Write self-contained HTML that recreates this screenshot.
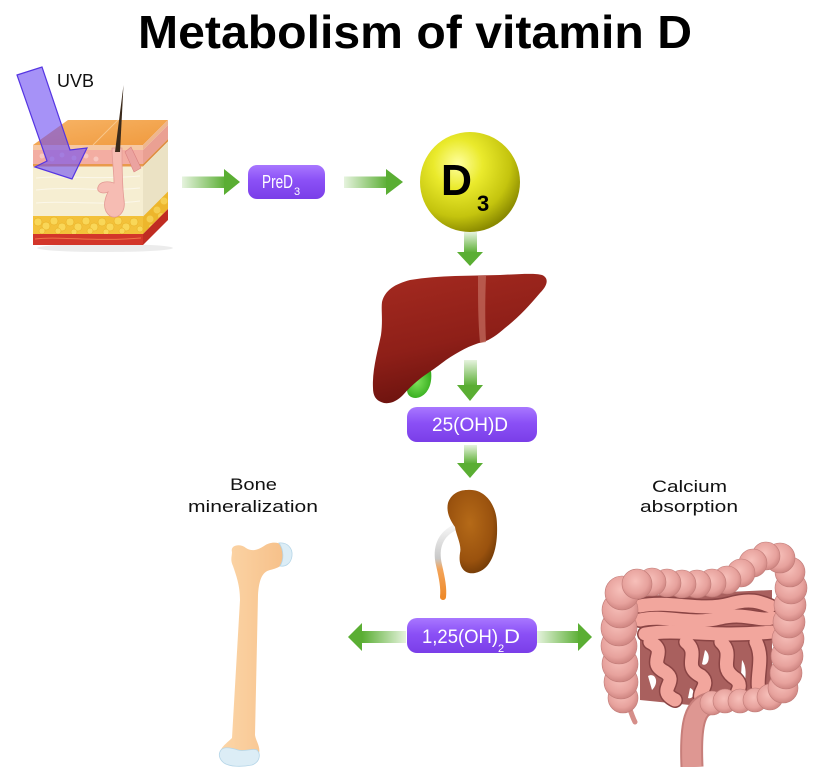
<!DOCTYPE html>
<html>
<head>
<meta charset="utf-8">
<style>
html,body{margin:0;padding:0;background:#fff;}
svg{display:block;}
text{font-family:"Liberation Sans",sans-serif;}
</style>
</head>
<body>
<svg width="815" height="767" viewBox="0 0 815 767" xmlns="http://www.w3.org/2000/svg">
<defs>
  <linearGradient id="gR" x1="0" y1="0" x2="1" y2="0">
    <stop offset="0" stop-color="#e6f3de"/><stop offset="1" stop-color="#5aae33"/>
  </linearGradient>
  <linearGradient id="gL" x1="1" y1="0" x2="0" y2="0">
    <stop offset="0" stop-color="#e6f3de"/><stop offset="1" stop-color="#5aae33"/>
  </linearGradient>
  <linearGradient id="gD" x1="0" y1="0" x2="0" y2="1">
    <stop offset="0" stop-color="#e6f3de"/><stop offset="1" stop-color="#5aae33"/>
  </linearGradient>
  <linearGradient id="purp" x1="0" y1="0" x2="0" y2="1">
    <stop offset="0" stop-color="#a877ff"/><stop offset="0.45" stop-color="#8b50f6"/><stop offset="1" stop-color="#7a3ee8"/>
  </linearGradient>
  <radialGradient id="sph" cx="0.38" cy="0.32" r="0.7">
    <stop offset="0" stop-color="#ffff9e"/><stop offset="0.35" stop-color="#eaea2c"/><stop offset="0.75" stop-color="#c4c40e"/><stop offset="1" stop-color="#8a8a00"/>
  </radialGradient>
  <linearGradient id="liv" x1="0" y1="0" x2="0.3" y2="1">
    <stop offset="0" stop-color="#a52a20"/><stop offset="0.6" stop-color="#8e1f18"/><stop offset="1" stop-color="#6a120e"/>
  </linearGradient>
  <radialGradient id="kid" cx="0.45" cy="0.4" r="0.65">
    <stop offset="0" stop-color="#b56a18"/><stop offset="0.7" stop-color="#9a520e"/><stop offset="1" stop-color="#6e3806"/>
  </radialGradient>
  <linearGradient id="ure" x1="0" y1="0" x2="0" y2="1">
    <stop offset="0" stop-color="#f4f4f4"/><stop offset="0.45" stop-color="#c8c8c8"/><stop offset="0.6" stop-color="#f3a45a"/><stop offset="1" stop-color="#ee8a2a"/>
  </linearGradient>
  <linearGradient id="bone" x1="0" y1="0" x2="1" y2="0">
    <stop offset="0" stop-color="#fcd6a8"/><stop offset="1" stop-color="#f6bf88"/>
  </linearGradient>
  <radialGradient id="hau" cx="0.45" cy="0.4" r="0.6">
    <stop offset="0" stop-color="#f7c0ba"/><stop offset="0.7" stop-color="#e7a29d"/><stop offset="1" stop-color="#cf8682"/>
  </radialGradient>
  <linearGradient id="topf" x1="0" y1="0" x2="1" y2="1">
    <stop offset="0" stop-color="#f7b466"/><stop offset="1" stop-color="#f09a3e"/>
  </linearGradient>
  <radialGradient id="gall" cx="0.4" cy="0.4" r="0.7">
    <stop offset="0" stop-color="#7ee25a"/><stop offset="1" stop-color="#2fa818"/>
  </radialGradient>
</defs>

<!-- Title -->
<text x="138" y="48" font-size="46" font-weight="bold" fill="#000" textLength="554" lengthAdjust="spacingAndGlyphs">Metabolism of vitamin D</text>

<!-- Skin cube -->
<ellipse cx="105" cy="248" rx="68" ry="4" fill="#ececec"/>
<polygon points="33,145 68,120 168,120 143,145" fill="url(#topf)"/>
<line x1="118" y1="120" x2="93" y2="145" stroke="#f8c68a" stroke-width="1"/>
<rect x="33" y="145" width="110" height="5" fill="#f6c8a2"/>
<rect x="33" y="150" width="110" height="14" fill="#f3ada2"/>
<g fill="#f8c8c0">
  <circle cx="42" cy="156" r="2.5"/><circle cx="52" cy="159" r="2.5"/><circle cx="62" cy="155" r="2.5"/><circle cx="74" cy="158" r="2.5"/><circle cx="86" cy="156" r="2.5"/><circle cx="96" cy="159" r="2.5"/><circle cx="132" cy="157" r="2.5"/>
</g>
<rect x="33" y="164" width="110" height="2.5" fill="#e99a4c"/>
<rect x="33" y="166.5" width="110" height="50" fill="#f6eed2"/>
<g stroke="#fbf7ea" stroke-width="1" fill="none">
  <path d="M36,178 C60,175 90,180 140,176"/><path d="M36,190 C70,186 100,192 140,188"/><path d="M36,203 C60,200 100,206 140,201"/>
</g>
<rect x="33" y="216" width="110" height="18" fill="#f3c13a"/>
<g fill="#f9d758" stroke="#e6ac20" stroke-width="0.5">
  <circle cx="38" cy="222" r="4"/><circle cx="46" cy="226" r="4"/><circle cx="54" cy="221" r="4"/><circle cx="62" cy="227" r="4"/><circle cx="70" cy="222" r="4"/><circle cx="78" cy="227" r="4"/><circle cx="86" cy="221" r="4"/><circle cx="94" cy="227" r="4"/><circle cx="102" cy="222" r="4"/><circle cx="110" cy="227" r="4"/><circle cx="118" cy="221" r="4"/><circle cx="126" cy="227" r="4"/><circle cx="134" cy="222" r="4"/><circle cx="140" cy="229" r="3"/><circle cx="42" cy="231" r="3"/><circle cx="58" cy="231" r="3"/><circle cx="74" cy="232" r="3"/><circle cx="90" cy="231" r="3"/><circle cx="106" cy="232" r="3"/><circle cx="122" cy="231" r="3"/>
</g>
<rect x="33" y="234" width="110" height="11" fill="#d3362a"/>
<path d="M35,239 C60,236 90,242 141,238" stroke="#ee7448" stroke-width="1" fill="none"/>
<polygon points="143,145 168,120 168,125 143,150" fill="#eeb690"/>
<polygon points="143,150 168,125 168,139 143,164" fill="#eaa093"/>
<polygon points="143,164 168,139 168,141.5 143,166.5" fill="#df8c40"/>
<polygon points="143,166.5 168,141.5 168,191.5 143,216.5" fill="#ebe2c4"/>
<polygon points="143,216.5 168,191.5 168,209 143,234" fill="#edb62c"/>
<g fill="#f5ce50"><circle cx="150" cy="219" r="3.5"/><circle cx="157" cy="210" r="3.5"/><circle cx="164" cy="201" r="3.5"/><circle cx="152" cy="227" r="3"/><circle cx="161" cy="216" r="3"/></g>
<polygon points="143,234 168,209 168,220 143,245" fill="#c02c22"/>
<polygon points="125,152 131,147 141,168 134,172" fill="#eba3a0" stroke="#d98080" stroke-width="0.6"/>
<path d="M112,148 C112,160 114,172 114,183 C108,181 100,181 98,187 C96,193 104,194 108,192 C104,200 102,210 110,216 C118,220 126,212 124,200 C122,185 122,165 122,148 Z" fill="#f6bcb3" stroke="#e39a94" stroke-width="0.8"/>
<path d="M123.5,85 L120,152 L115,152 Z" fill="#3b2a1b"/>
<!-- UVB arrow -->
<polygon points="17,75 42,67 70,150 87,148 72,179 35,167 47,161" fill="#6f4ff2" fill-opacity="0.62" stroke="#5535e2" stroke-width="1.2"/>
<text x="57" y="87" font-size="18" fill="#111" textLength="37" lengthAdjust="spacingAndGlyphs">UVB</text>

<!-- Arrow 1 -->
<rect x="182" y="176.5" width="44" height="11.5" fill="url(#gR)"/>
<polygon points="224,169 240,182 224,195" fill="#5aae33"/>
<rect x="248" y="165" width="77" height="34" rx="9" fill="url(#purp)"/>
<text x="262" y="188" font-size="18" fill="#fff" textLength="31" lengthAdjust="spacingAndGlyphs">PreD</text>
<text x="294" y="195" font-size="11" fill="#fff">3</text>
<rect x="344" y="176.5" width="44" height="11.5" fill="url(#gR)"/>
<polygon points="386,169 403,182 386,195" fill="#5aae33"/>
<!-- D3 sphere -->
<circle cx="470" cy="182" r="50" fill="url(#sph)"/>
<text x="441" y="195" font-size="44" font-weight="bold" fill="#000" textLength="31" lengthAdjust="spacingAndGlyphs">D</text>
<text x="477" y="211" font-size="22" font-weight="bold" fill="#000">3</text>
<rect x="464" y="232" width="13" height="21" fill="url(#gD)"/>
<polygon points="457,252 483,252 470,266" fill="#5aae33"/>

<!-- Liver -->
<path d="M431,371 C433,386 426,397 416,398 C407,398 405,390 409,383 C414,377 424,374 431,371 Z" fill="url(#gall)"/>
<path d="M382,302 C385,290 395,284 410,280 C440,275 470,276 500,275 C520,274 535,273 542,275 C549,278 548,285 540,293 C530,305 518,318 505,328 C497,335 490,340 483,342 C470,345 458,352 446,360 C438,366 434,369 428,373 C419,379 411,386 403,395 C397,401 391,404 384,403 C376,401 373,396 373,388 C372,370 378,350 381,335 C383,320 381,310 382,302 Z" fill="url(#liv)"/>
<path d="M478,276 L486,276 C485,300 485,320 486,342 L480,343 C478,320 478,300 478,276 Z" fill="#c26a5c" opacity="0.75"/>
<rect x="464" y="360" width="13" height="26" fill="url(#gD)"/>
<polygon points="457,385 483,385 470,401" fill="#5aae33"/>
<rect x="407" y="407" width="130" height="35" rx="10" fill="url(#purp)"/>
<text x="432" y="431" font-size="19" fill="#fff" textLength="76" lengthAdjust="spacingAndGlyphs">25(OH)D</text>
<rect x="464" y="445" width="13" height="19" fill="url(#gD)"/>
<polygon points="457,463 483,463 470,478" fill="#5aae33"/>

<!-- Kidney -->
<path d="M456,527 C440,534 435,548 439,565 C442,578 444,588 443,597" stroke="url(#ure)" stroke-width="6" fill="none" stroke-linecap="round"/>
<path d="M467,490 C485,488 497,505 497,525 C498,548 492,570 475,573 C463,575 458,565 460,553 C462,545 456,535 455,527 C450,520 446,512 448,503 C451,494 459,490 467,490 Z" fill="url(#kid)"/>

<!-- 1,25(OH)2D -->
<rect x="362" y="631" width="44" height="12" fill="url(#gL)"/>
<polygon points="362,623 348,637 362,651" fill="#5aae33"/>
<rect x="537" y="631" width="43" height="12" fill="url(#gR)"/>
<polygon points="578,623 592,637 578,651" fill="#5aae33"/>
<rect x="407" y="618" width="130" height="35" rx="10" fill="url(#purp)"/>
<text x="422" y="643" font-size="19" fill="#fff" textLength="76" lengthAdjust="spacingAndGlyphs">1,25(OH)</text>
<text x="498" y="652" font-size="11" fill="#fff">2</text>
<text x="504" y="643" font-size="19" fill="#fff" textLength="16" lengthAdjust="spacingAndGlyphs">D</text>

<!-- Labels -->
<text x="230" y="490" font-size="17" fill="#111" textLength="47" lengthAdjust="spacingAndGlyphs">Bone</text>
<text x="188" y="512" font-size="17" fill="#111" textLength="130" lengthAdjust="spacingAndGlyphs">mineralization</text>
<text x="652" y="492" font-size="17" fill="#111" textLength="75" lengthAdjust="spacingAndGlyphs">Calcium</text>
<text x="640" y="512" font-size="17" fill="#111" textLength="98" lengthAdjust="spacingAndGlyphs">absorption</text>

<!-- Bone -->
<path d="M232,552 C230,545 240,543 246,548 C252,552 258,550 264,546 C272,540 285,542 287,552 C289,562 280,568 270,570 C262,572 259,580 258,595 L255,735 C256,742 262,748 258,756 C250,766 230,766 222,758 C216,750 226,744 232,738 L240,600 C240,585 236,575 233,566 C230,560 232,556 232,552 Z" fill="url(#bone)"/>
<path d="M279,543 C287,542 293,548 292,556 C291,564 285,567 280,566 C284,560 284,550 279,543 Z" fill="#dcedf6" stroke="#b6d6e8" stroke-width="0.8"/>
<path d="M221,750 C224,746 232,748 238,750 C244,752 252,748 257,750 C261,754 260,762 252,765 C242,767 230,767 224,763 C219,759 218,754 221,750 Z" fill="#dcedf6" stroke="#b6d6e8" stroke-width="0.8"/>

<!-- Intestines -->
<path d="M640,596 L772,590 L772,706 L700,706 L640,700 Z" fill="#a9605e"/>
<g fill="#ffffff">
  <path d="M648,676 C655,672 660,682 652,690 Z"/><path d="M705,650 C712,655 708,668 702,664 Z"/><path d="M742,660 C748,668 746,685 740,690 Z"/><path d="M690,688 C696,690 694,700 688,698 Z"/>
</g>
<g fill="none" stroke-linecap="round">
  <g stroke="#8a4444" stroke-width="16">
    <path d="M640,606 C670,600 700,612 730,604 C750,598 760,602 770,606"/>
    <path d="M640,620 C665,614 690,626 720,618 C745,612 760,622 772,618"/>
    <path d="M645,634 C680,628 710,638 772,632"/>
    <path d="M650,642 C670,652 645,662 665,672 C680,682 655,690 675,700"/>
    <path d="M686,642 C701,654 681,666 701,676 C713,686 691,695 706,702"/>
    <path d="M721,642 C736,656 716,666 736,679 C746,689 729,695 741,702"/>
    <path d="M756,642 C766,662 752,680 762,700"/>
  </g>
  <g stroke="#f2a69d" stroke-width="13">
    <path d="M640,606 C670,600 700,612 730,604 C750,598 760,602 770,606"/>
    <path d="M640,620 C665,614 690,626 720,618 C745,612 760,622 772,618"/>
    <path d="M645,634 C680,628 710,638 772,632"/>
    <path d="M650,642 C670,652 645,662 665,672 C680,682 655,690 675,700"/>
    <path d="M686,642 C701,654 681,666 701,676 C713,686 691,695 706,702"/>
    <path d="M721,642 C736,656 716,666 736,679 C746,689 729,695 741,702"/>
    <path d="M756,642 C766,662 752,680 762,700"/>
  </g>
</g>
<path d="M712,703 C695,705 690,722 692,767" stroke="#c77e7a" stroke-width="23" fill="none"/>
<path d="M712,703 C695,705 690,722 692,767" stroke="#de9792" stroke-width="19" fill="none"/>
<path d="M627,700 C630,710 632,716 635,722" stroke="#d58e89" stroke-width="5" fill="none" stroke-linecap="round"/>
<g fill="url(#hau)" stroke="#c17c78" stroke-width="0.6">
  <circle cx="623" cy="698" r="15"/><circle cx="621" cy="682" r="17"/><circle cx="620" cy="664" r="18"/><circle cx="619" cy="646" r="18"/><circle cx="619" cy="628" r="18"/><circle cx="620" cy="610" r="18"/><circle cx="622" cy="593" r="17"/>
  <circle cx="712" cy="703" r="12"/><circle cx="725" cy="701" r="12"/><circle cx="740" cy="701" r="12"/><circle cx="755" cy="700" r="12"/><circle cx="770" cy="697" r="13"/>
  <circle cx="783" cy="688" r="15"/><circle cx="786" cy="673" r="16"/><circle cx="787" cy="656" r="16"/><circle cx="788" cy="639" r="16"/><circle cx="789" cy="622" r="16"/><circle cx="790" cy="605" r="16"/><circle cx="791" cy="588" r="16"/><circle cx="790" cy="572" r="15"/><circle cx="780" cy="558" r="15"/>
  <circle cx="766" cy="556" r="14"/><circle cx="753" cy="563" r="14"/><circle cx="741" cy="573" r="14"/><circle cx="727" cy="580" r="14"/><circle cx="712" cy="583" r="14"/><circle cx="697" cy="584" r="14"/><circle cx="682" cy="584" r="14"/><circle cx="667" cy="583" r="14"/><circle cx="652" cy="582" r="14"/><circle cx="637" cy="584" r="15"/>
</g>
</svg>
</body>
</html>
